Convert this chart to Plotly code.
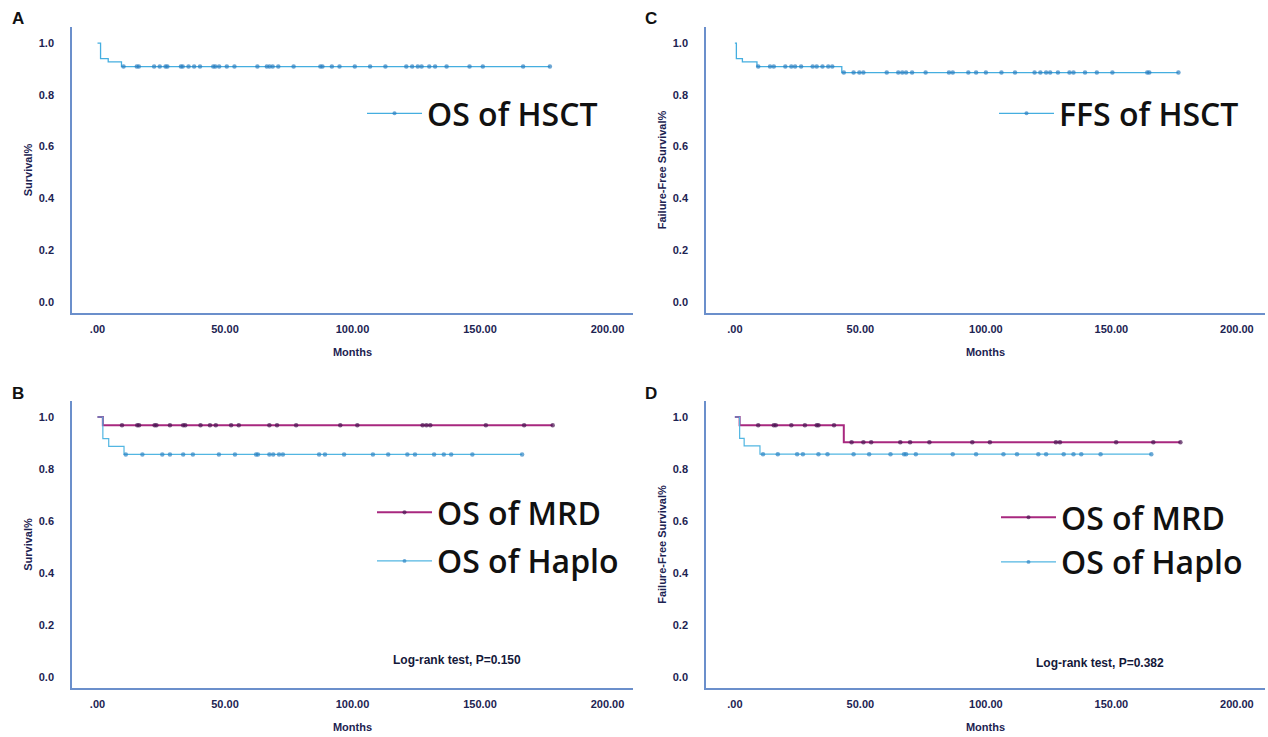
import numpy as np
import plotly.graph_objects as go

# ---------------- data (months, survival) ----------------
# Panel A: OS of HSCT
a_event_times = [0, 1.2, 4.2, 9.4]
a_event_surv = [1.0, 0.940, 0.927, 0.909]
a_censor = [10.2, 15.4, 16.2, 22.2, 24.4, 26.7, 27.4, 32.7, 33.4, 35.7, 37.9, 40.2, 45.4, 46.2,
            47.7, 50.7, 53.7, 62.7, 66.4, 67.5, 68.7, 70.9, 76.9, 87.4, 88.2, 91.9, 94.9, 100.9,
            106.9, 112.9, 121.1, 123.4, 125.6, 127.1, 130.1, 132.4, 136.9, 145.9, 151.1, 166.9, 177.4]

# Panel C: FFS of HSCT
c_event_times = [0, 0.6, 3.0, 8.8, 42.6]
c_event_surv = [1.0, 0.940, 0.927, 0.909, 0.886]
c_censor = [9.3, 14.0, 15.5, 20.1, 22.5, 24.0, 26.4, 31.0, 32.6, 34.9, 37.2, 38.8, 43.4, 47.3,
            49.6, 51.2, 60.5, 65.1, 66.7, 68.2, 70.6, 76.0, 85.3, 86.8, 93.0, 96.1, 100.0, 106.2,
            111.6, 119.4, 121.7, 124.0, 125.6, 128.7, 133.3, 134.9, 139.5, 144.2, 150.4, 164.3,
            165.1, 176.7]

# Panel B: OS of MRD / OS of Haplo
b_mrd_event_times = [0, 2.1]
b_mrd_event_surv = [1.0, 0.968]
b_mrd_censor = [9.6, 15.6, 16.3, 22.4, 23.1, 28.4, 33.6, 34.4, 40.4, 44.1, 46.4, 52.4, 55.4,
                67.4, 70.4, 77.9, 95.2, 101.9, 127.5, 129.0, 130.5, 152.3, 167.3, 178.5]
b_haplo_event_times = [0, 2.1, 4.4, 10.4]
b_haplo_event_surv = [1.0, 0.917, 0.887, 0.856]
b_haplo_censor = [11.1, 17.6, 25.4, 28.4, 33.6, 37.4, 47.6, 53.9, 62.2, 62.9, 67.4, 68.9, 71.2,
                  72.7, 86.9, 89.2, 96.7, 108.0, 114.0, 121.5, 124.5, 132.0, 135.8, 138.7, 147.0,
                  166.5]

# Panel D: FFS of MRD / FFS of Haplo
d_mrd_event_times = [0, 1.9, 43.4]
d_mrd_event_surv = [1.0, 0.968, 0.903]
d_mrd_censor = [9.3, 15.5, 16.3, 22.5, 27.9, 32.6, 33.3, 39.5, 46.5, 51.2, 54.3, 65.9, 69.8,
                77.5, 94.6, 101.6, 127.9, 129.5, 151.9, 166.7, 177.5]
d_haplo_event_times = [0, 1.9, 3.7, 10.0]
d_haplo_event_surv = [1.0, 0.918, 0.889, 0.857]
d_haplo_censor = [11.2, 17.1, 24.8, 27.1, 33.3, 36.9, 47.3, 53.5, 62.0, 67.4, 68.2, 72.1, 86.8,
                  96.1, 107.0, 112.4, 120.9, 124.0, 131.0, 134.9, 138.0, 145.7, 165.9]

x_tickvals = [0, 50, 100, 150, 200]
x_ticktext = [".00", "50.00", "100.00", "150.00", "200.00"]
y_tickvals = [0, 0.2, 0.4, 0.6, 0.8, 1.0]
y_ticktext = ["0.0", "0.2", "0.4", "0.6", "0.8", "1.0"]

# ---------------- helpers ----------------
def km_points(ev_t, ev_s, cens):
    ev_t = np.asarray(ev_t, float)
    ev_s = np.asarray(ev_s, float)
    cens = np.asarray(cens, float)
    cs = ev_s[np.searchsorted(ev_t, cens, side="right") - 1]
    x = np.concatenate([ev_t, cens])
    y = np.concatenate([ev_s, cs])
    sz = np.concatenate([np.zeros(len(ev_t)), np.full(len(cens), 4.5)])
    order = np.argsort(x, kind="stable")
    return x[order], y[order], sz[order]


W, H = 1268, 737
fig = go.Figure()

def add_curve(ev_t, ev_s, cens, name, line_color, marker_color, width, xa, ya, legend):
    x, y, sz = km_points(ev_t, ev_s, cens)
    fig.add_trace(go.Scatter(
        x=x, y=y, mode="lines+markers", name=name,
        line=dict(color=line_color, width=width, shape="hv"),
        marker=dict(size=sz, color=marker_color, symbol="circle", line=dict(width=0)),
        xaxis=xa, yaxis=ya, legend=legend, legendgroup=legend + name, showlegend=True,
    ))

HSCT_LINE = "#45aee0"
HSCT_DOT = "#2b7fc0"
MRD_LINE = "#a8287f"
MRD_DOT = "#4a1553"
HAP_LINE = "#52b6e2"
HAP_DOT = "#2f86c4"

add_curve(a_event_times, a_event_surv, a_censor, "OS of HSCT", HSCT_LINE, HSCT_DOT, 1.3, "x", "y", "legend")
add_curve(c_event_times, c_event_surv, c_censor, "FFS of HSCT", HSCT_LINE, HSCT_DOT, 1.3, "x2", "y2", "legend2")
add_curve(b_mrd_event_times, b_mrd_event_surv, b_mrd_censor, "OS of MRD", MRD_LINE, MRD_DOT, 2.0, "x3", "y3", "legend3")
add_curve(b_haplo_event_times, b_haplo_event_surv, b_haplo_censor, "OS of Haplo", HAP_LINE, HAP_DOT, 1.2, "x3", "y3", "legend3")
add_curve(d_mrd_event_times, d_mrd_event_surv, d_mrd_censor, "OS of MRD", MRD_LINE, MRD_DOT, 2.0, "x4", "y4", "legend4")
add_curve(d_haplo_event_times, d_haplo_event_surv, d_haplo_censor, "OS of Haplo", HAP_LINE, HAP_DOT, 1.2, "x4", "y4", "legend4")

# ---------------- axes ----------------
AX_COLOR = "#6b8fcb"
TICK_FONT = dict(family="Liberation Sans, Arial", size=11, color="#1d2352", weight="bold")
TITLE_FONT = dict(family="Liberation Sans, Arial", size=11, color="#1d2352", weight="bold")

def px_dom(a, b, total):
    return [a / total, b / total]

def ydom(top_px, bot_px):
    return [1 - bot_px / H, 1 - top_px / H]

left_dom = px_dom(72, 633, W)
right_dom = px_dom(706, 1265, W)
top_dom = ydom(27, 313)
bot_dom = ydom(401, 688)

left_xrange = [-10.0, 210.0]
right_xrange = [-11.5, 211.2]
top_yrange = [-0.0425, 1.062]
bot_yrange = [-0.042, 1.0615]

def xaxis(dom, rng, anchor):
    return dict(domain=dom, range=rng, anchor=anchor, showgrid=False, zeroline=False,
                showline=True, linecolor=AX_COLOR, linewidth=1.5, ticks="",
                tickvals=x_tickvals, ticktext=x_ticktext, tickfont=TICK_FONT,
                ticklabelstandoff=5, automargin=False,
                title=dict(text="Months", font=TITLE_FONT, standoff=14))

def yaxis(dom, rng, anchor, title):
    return dict(domain=dom, range=rng, anchor=anchor, showgrid=False, zeroline=False,
                showline=True, linecolor=AX_COLOR, linewidth=1.5, ticks="",
                tickvals=y_tickvals, ticktext=y_ticktext, tickfont=TICK_FONT,
                ticklabelstandoff=14, automargin=False,
                title=dict(text=title, font=TITLE_FONT, standoff=4))

fig.update_layout(
    xaxis=xaxis(left_dom, left_xrange, "y"),
    yaxis=yaxis(top_dom, top_yrange, "x", "Survival%"),
    xaxis2=xaxis(right_dom, right_xrange, "y2"),
    yaxis2=yaxis(top_dom, top_yrange, "x2", "Failure-Free Survival%"),
    xaxis3=xaxis(left_dom, left_xrange, "y3"),
    yaxis3=yaxis(bot_dom, bot_yrange, "x3", "Survival%"),
    xaxis4=xaxis(right_dom, right_xrange, "y4"),
    yaxis4=yaxis(bot_dom, bot_yrange, "x4", "Failure-Free Survival%"),
)

# ---------------- legends ----------------
LEG_FONT = dict(family="Open Sans, Noto Sans", size=32, color="#111111", weight=600)

def legend(xpx, ypx, gap=0):
    return dict(x=xpx / W, y=1 - ypx / H, xanchor="left", yanchor="top",
                bgcolor="rgba(0,0,0,0)", font=LEG_FONT, itemwidth=55,
                tracegroupgap=gap, itemclick=False)

fig.update_layout(
    legend=legend(362, 86),
    legend2=legend(994, 86),
    legend3=legend(372, 485, gap=4),
    legend4=legend(996, 490, gap=0),
)

# ---------------- annotations ----------------
ann = []
for letter, xp, yp in [("A", 18, 18), ("C", 651, 18), ("B", 18, 393), ("D", 651, 393)]:
    ann.append(dict(text=letter, x=xp / W, y=1 - yp / H, xref="paper", yref="paper",
                    showarrow=False, xanchor="center", yanchor="middle",
                    font=dict(family="Liberation Sans, Arial", size=17, color="#111111", weight="bold")))
for txt, xp, yp in [("Log-rank test, P=0.150", 457, 660), ("Log-rank test, P=0.382", 1100, 663)]:
    ann.append(dict(text=txt, x=xp / W, y=1 - yp / H, xref="paper", yref="paper",
                    showarrow=False, xanchor="center", yanchor="middle",
                    font=dict(family="Liberation Sans Narrow, Liberation Sans, Arial", size=12,
                              color="#14183a", weight="bold")))

fig.update_layout(
    annotations=ann,
    width=W, height=H,
    margin=dict(l=0, r=0, t=0, b=0, autoexpand=False),
    paper_bgcolor="white", plot_bgcolor="white",
)

fig.write_html("out.html", config={"displayModeBar": False},
               post_script="document.body.style.margin='0';document.body.style.overflow='hidden';")
